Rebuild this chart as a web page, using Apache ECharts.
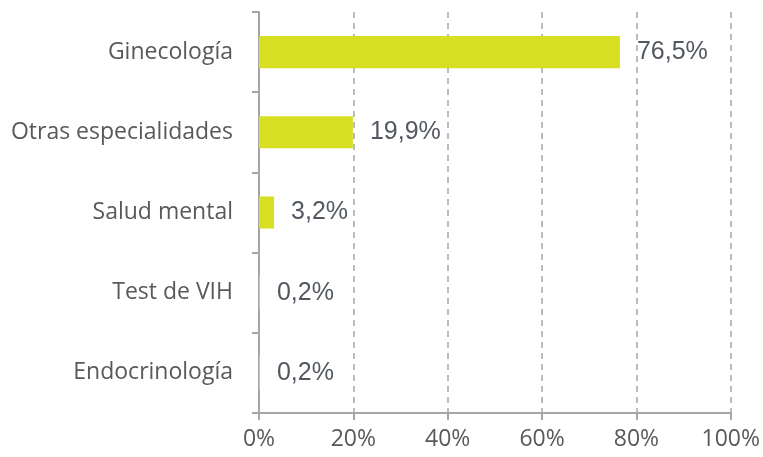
<!DOCTYPE html>
<html>
<head>
<meta charset="utf-8">
<script src="https://cdn.jsdelivr.net/npm/echarts@6/dist/echarts.min.js"></script>
<style>
  html, body { margin: 0; padding: 0; background: #fff; }
  #chart { width: 763px; height: 457px; }
</style>
</head>
<body>
<div id="chart"></div>
<script>
// datos
const categories = ['Ginecología', 'Otras especialidades', 'Salud mental', 'Test de VIH', 'Endocrinología'];
const values = [76.5, 19.9, 3.2, 0.2, 0.2];
const xTicks = [0, 20, 40, 60, 80, 100];

const chart = echarts.init(document.getElementById('chart'));
const axisGray = '#a6a6a6';
const textGray = '#595959';

chart.setOption({
  animation: false,
  grid: { left: 259, right: 32, top: 12, bottom: 44, containLabel: false },
  xAxis: {
    type: 'value',
    min: xTicks[0],
    max: xTicks[xTicks.length - 1],
    interval: 20,
    axisLine: { show: true, lineStyle: { color: axisGray, width: 2 } },
    axisTick: { show: true, length: 7, lineStyle: { color: axisGray, width: 2 } },
    axisLabel: {
      formatter: '{value}%',
      color: textGray,
      fontFamily: 'Open Sans',
      fontSize: 23,
      margin: 15
    },
    splitLine: {
      show: true,
      lineStyle: { color: axisGray, width: 1.5, type: [6, 5] }
    }
  },
  yAxis: {
    type: 'category',
    data: categories,
    inverse: true,
    axisLine: { show: true, lineStyle: { color: axisGray, width: 2 } },
    axisTick: { show: true, length: 7, lineStyle: { color: axisGray, width: 2 } },
    axisLabel: {
      color: textGray,
      fontFamily: 'Open Sans',
      fontSize: 23,
      margin: 26
    },
    splitLine: { show: false }
  },
  series: [{
    type: 'bar',
    data: values,
    barWidth: '40%',
    itemStyle: { color: '#d7df23' },
    label: {
      show: true,
      position: 'right',
      distance: 17,
      color: '#535860',
      fontFamily: 'Liberation Sans',
      fontSize: 25,
      formatter: function (p) { return p.value.toFixed(1).replace('.', ',') + '%'; }
    }
  }]
});
</script>
</body>
</html>
